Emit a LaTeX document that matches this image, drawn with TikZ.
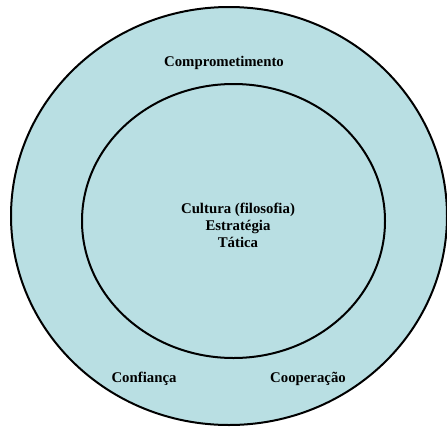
\documentclass[tikz,border=0pt]{standalone}
\usepackage{fontspec}
\setmainfont{Liberation Serif}
\usepackage{tikz}
\definecolor{ringblue}{RGB}{185,223,227}
\tikzset{ringtext/.style={font=\bfseries\fontsize{14.8}{17}\selectfont,align=center,inner sep=0pt}}

\begin{document}
\begin{tikzpicture}[x=1pt,y=-1pt]
    \useasboundingbox (0,0) rectangle (447,426);
    \draw[line width=2pt,fill=ringblue] (229,216) ellipse [x radius=218,y radius=209];
    \draw[line width=2pt] (233.5,221) ellipse [x radius=151.5,y radius=137];

    \node[ringtext] (comp) at (224,63) {Comprometimento};
    \node[ringtext] (core) at (238,225) {Cultura (filosofia)\\Estratégia\\Tática};
    \node[ringtext] (conf) at (144,379) {Confiança};
    \node[ringtext] (coop) at (308,379) {Cooperação};
\end{tikzpicture}
\end{document}
